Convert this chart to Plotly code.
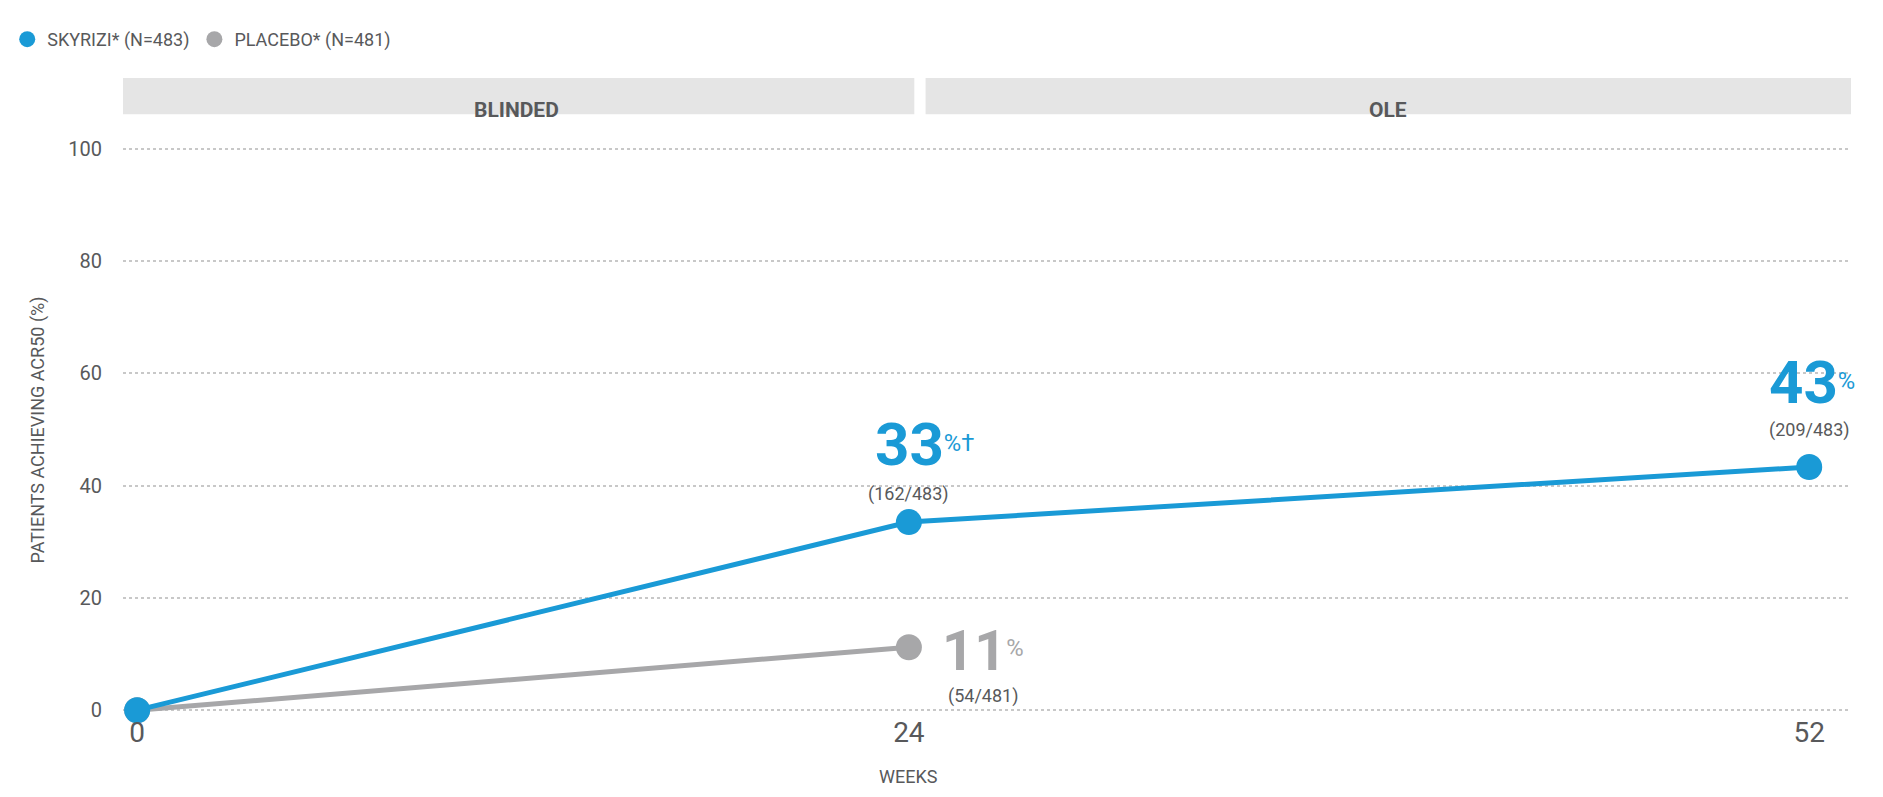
import plotly.graph_objects as go

weeks_sky = [0, 24, 52]
sky_vals = [0, 33.5, 43.3]
weeks_pbo = [0, 24]
pbo_vals = [0, 11.2]
y_ticks = [0, 20, 40, 60, 80, 100]
x_ticks = [0, 24, 52]
phases = ["BLINDED", "OLE"]

BLUE = "#1a9ad6"
GRAY = "#a7a7a9"
TXT = "#58595b"
F = "Roboto"

fig = go.Figure()
fig.add_trace(go.Scatter(x=weeks_pbo, y=pbo_vals, mode="lines+markers", showlegend=False,
                         line=dict(color=GRAY, width=5), marker=dict(size=26, color=GRAY), cliponaxis=False))
fig.add_trace(go.Scatter(x=weeks_sky, y=sky_vals, mode="lines+markers", showlegend=False,
                         line=dict(color=BLUE, width=5), marker=dict(size=26, color=BLUE), cliponaxis=False))
fig.add_trace(go.Scatter(x=[None], y=[None], mode="markers", name="SKYRIZI* (N=483)",
                         marker=dict(size=16, color=BLUE)))
fig.add_trace(go.Scatter(x=[None], y=[None], mode="markers", name="PLACEBO* (N=481)",
                         marker=dict(size=16, color=GRAY)))

shapes = [
    dict(type="rect", xref="x", yref="paper", x0=-0.56, x1=24.17, y0=1.058, y1=1.122,
         fillcolor="#e5e5e5", line_width=0, layer="below"),
    dict(type="rect", xref="x", yref="paper", x0=24.52, x1=53.4, y0=1.058, y1=1.122,
         fillcolor="#e5e5e5", line_width=0, layer="below"),
]
ann = [
    dict(x=11.8, y=1.09, xref="x", yref="paper", text="<b>" + phases[0] + "</b>", showarrow=False,
         font=dict(family=F, size=21, color=TXT)),
    dict(x=38.9, y=1.09, xref="x", yref="paper", text="<b>" + phases[1] + "</b>", showarrow=False,
         font=dict(family=F, size=21, color=TXT)),
    dict(x=24.5, y=47.4, text="<b>33</b><span style='font-size:34px'><sup>%†</sup></span>", showarrow=False,
         font=dict(family=F, size=60, color=BLUE)),
    dict(x=24, y=38.5, text="(162/483)", showarrow=False, font=dict(family=F, size=18, color=TXT)),
    dict(x=52.1, y=58.3, text="<b>43</b><span style='font-size:34px'><sup>%</sup></span>", showarrow=False,
         font=dict(family=F, size=60, color=BLUE)),
    dict(x=52, y=49.9, text="(209/483)", showarrow=False, font=dict(family=F, size=18, color=TXT)),
    dict(x=26.3, y=10.5, text="<b>11</b><span style='font-size:34px'><sup>%</sup></span>", showarrow=False,
         font=dict(family=F, size=56, color=GRAY)),
    dict(x=26.3, y=2.5, text="(54/481)", showarrow=False, font=dict(family=F, size=18, color=TXT)),
    dict(x=24, y=-0.135, xref="x", yref="paper", text="WEEKS", showarrow=False,
         font=dict(family=F, size=18, color=TXT)),
]

fig.update_layout(
    width=1883, height=797, plot_bgcolor="white", paper_bgcolor="white",
    margin=dict(l=115, r=40, t=139, b=92, autoexpand=False),
    shapes=shapes, annotations=ann,
    legend=dict(orientation="h", x=-0.067, y=1.19, xanchor="left", yanchor="middle",
                font=dict(family=F, size=18, color=TXT), itemwidth=30),
    xaxis=dict(range=[-0.44, 53.3], tickvals=x_ticks, showgrid=False, zeroline=False, showline=False,
               tickfont=dict(family=F, size=28, color=TXT), ticks=""),
    yaxis=dict(range=[-0.5, 100.3], tickvals=y_ticks, showgrid=True, gridcolor="#c8c8c8", gridwidth=2,
               griddash="dot", zeroline=False, showline=False, ticks="", ticklabelstandoff=20,
               tickfont=dict(family=F, size=20, color=TXT),
               title=dict(text="PATIENTS ACHIEVING ACR50 (%)", font=dict(family=F, size=18, color=TXT), standoff=18)),
)
fig.write_html("out.html")
